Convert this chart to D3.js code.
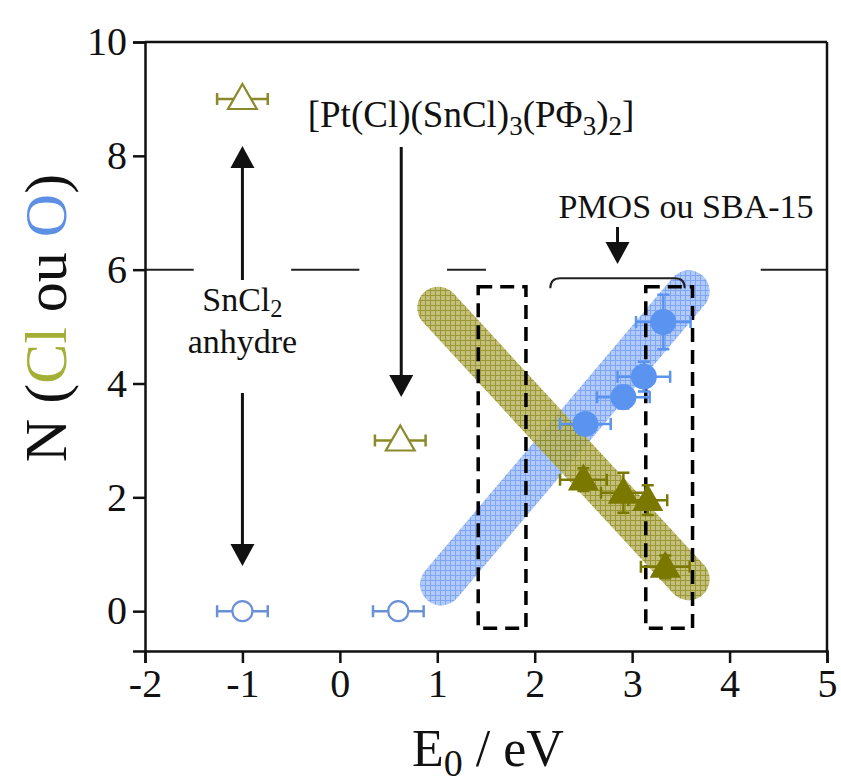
<!DOCTYPE html>
<html><head><meta charset="utf-8">
<script src="https://cdn.jsdelivr.net/npm/d3@7"></script>
<style>body{margin:0;background:#fff} svg text{font-family:"Liberation Serif","Times New Roman",serif}</style>
</head><body><svg id="c" width="841" height="783"></svg>
<script>
// ---- data ----
const xTicks = [-2, -1, 0, 1, 2, 3, 4, 5];
const yTicks = [0, 2, 4, 6, 8, 10];
// reference compounds (open symbols)
const refClE0 = [-1, 0.62], refClN = [9, 3], refClErr = [0.26, 0.26];
const refOE0 = [-1, 0.6], refON = [0, 0], refOErr = [0.26, 0.26];
// PMOS / SBA-15 samples (filled symbols)
const smpClE0 = [2.50, 2.91, 3.16, 3.34], smpClN = [2.31, 2.08, 1.95, 0.78];
const smpClXErr = [0.24, 0.23, 0.20, 0.25], smpClYErr = [0.20, 0.35, 0.26, 0.20];
const smpOE0 = [2.52, 2.91, 3.12, 3.32], smpON = [3.29, 3.76, 4.12, 5.08];
const smpOXErr = [0.26, 0.27, 0.27, 0.28], smpOYErr = [0.10, 0.20, 0.26, 0.48];
// trend bands
const bandCl = [[1.01, 5.33], [3.58, 0.56]];
const bandO = [[1.04, 0.47], [3.58, 5.62]];
// dashed boxes (E0 ranges) and N range
const boxE0 = [[1.42, 1.91], [3.14, 3.62]], boxN = [-0.3, 5.7];
// reference level N = 6 (broken line)
const levelN = 6, levelSegs = [[-2, -1.5], [-0.5, 0.2], [1.1, 1.5], [4.32, 5]];

// ---- chart ----
const SERIF = '"Liberation Serif","Times New Roman",serif';
const svg = d3.select("#c");
const x = d3.scaleLinear([-2, 5], [145, 827]);
const y = d3.scaleLinear([-0.7, 10], [651, 42]);
const OLIVE = "#7b7800", BLUE = "#5b93f0";

const defs = svg.append("defs");
function hatch(id, base, line) {
  const p = defs.append("pattern").attr("id", id).attr("patternUnits", "userSpaceOnUse")
    .attr("width", 5).attr("height", 5);
  p.append("rect").attr("width", 5).attr("height", 5).attr("fill", base);
  p.append("path").attr("d", "M0,0.5H5M0.5,0V5").attr("stroke", line).attr("stroke-width", 1);
}
hatch("hO", "#b2caf8", "#7fa6f2");
hatch("hCl", "#bcb86a", "#8c8a1a");

// bands
function band(pts, pat, op) {
  svg.append("line").attr("x1", x(pts[0][0])).attr("y1", y(pts[0][1]))
    .attr("x2", x(pts[1][0])).attr("y2", y(pts[1][1]))
    .attr("stroke", `url(#${pat})`).attr("stroke-width", 42).attr("stroke-linecap", "round")
    .attr("opacity", op);
}
band(bandO, "hO", 1);
band(bandCl, "hCl", 0.88);

// dashed boxes
boxE0.forEach(b => {
  svg.append("rect").attr("x", x(b[0])).attr("y", y(boxN[1]))
    .attr("width", x(b[1]) - x(b[0])).attr("height", y(boxN[0]) - y(boxN[1]))
    .attr("fill", "none").attr("stroke", "#000").attr("stroke-width", 3.5)
    .attr("stroke-dasharray", "14,8");
});

// level line
levelSegs.forEach(s => {
  svg.append("line").attr("x1", x(s[0])).attr("x2", x(s[1])).attr("y1", y(levelN)).attr("y2", y(levelN))
    .attr("stroke", "#222").attr("stroke-width", 2);
});

// axes
const gx = svg.append("g").attr("transform", `translate(0,${y(-0.7)})`)
  .call(d3.axisBottom(x).tickValues(xTicks).tickSize(12).tickPadding(6).tickFormat(d3.format("d")));
const gy = svg.append("g").attr("transform", `translate(${x(-2)},0)`)
  .call(d3.axisLeft(y).tickValues(yTicks).tickSize(12).tickPadding(6).tickFormat(d3.format("d")));
[gx, gy].forEach(g => {
  g.attr("font-family", SERIF);
  g.select(".domain").attr("stroke-width", 2.5).attr("stroke", "#111");
  g.selectAll(".tick line").attr("stroke-width", 2.5).attr("stroke", "#111");
  g.selectAll(".tick text").attr("font-size", 40).attr("fill", "#111");
});
gx.selectAll(".tick text").text(d => d < 0 ? "-" + Math.abs(d) : d);
// frame top/right
svg.append("line").attr("x1", x(-2)).attr("x2", x(5)).attr("y1", y(10)).attr("y2", y(10)).attr("stroke", "#111").attr("stroke-width", 2.5);
svg.append("line").attr("x1", x(5)).attr("x2", x(5)).attr("y1", y(10)).attr("y2", y(-0.7)).attr("stroke", "#111").attr("stroke-width", 2.5);

// error bars
function errX(g, cx, cy, e, col) {
  const cap = 6;
  g.append("path").attr("d", `M${x(cx - e)},${y(cy)}H${x(cx + e)}M${x(cx - e)},${y(cy) - cap}v${2 * cap}M${x(cx + e)},${y(cy) - cap}v${2 * cap}`)
    .attr("stroke", col).attr("stroke-width", 2.5).attr("fill", "none");
}
function errY(g, cx, cy, e, col) {
  const cap = 6;
  g.append("path").attr("d", `M${x(cx)},${y(cy - e)}V${y(cy + e)}M${x(cx) - cap},${y(cy - e)}h${2 * cap}M${x(cx) - cap},${y(cy + e)}h${2 * cap}`)
    .attr("stroke", col).attr("stroke-width", 2.5).attr("fill", "none");
}
const tri = (cx, cy, s) => `M${cx},${cy - s * 0.62}L${cx + s * 0.6},${cy + s * 0.42}L${cx - s * 0.6},${cy + s * 0.42}Z`;
const mg = svg.append("g");
// open references
refClE0.forEach((e, i) => {
  errX(mg, e, refClN[i], refClErr[i], "#8a8a2a");
  mg.append("path").attr("d", tri(x(e), y(refClN[i]), 24)).attr("fill", "#fff").attr("stroke", "#8a8a2a").attr("stroke-width", 2.2);
});
refOE0.forEach((e, i) => {
  errX(mg, e, refON[i], refOErr[i], "#6a90d8");
  mg.append("circle").attr("cx", x(e)).attr("cy", y(refON[i])).attr("r", 10).attr("fill", "#fff").attr("stroke", "#6a90d8").attr("stroke-width", 2.2);
});
// filled samples
smpOE0.forEach((e, i) => {
  errX(mg, e, smpON[i], smpOXErr[i], BLUE);
  errY(mg, e, smpON[i], smpOYErr[i], BLUE);
  mg.append("circle").attr("cx", x(e)).attr("cy", y(smpON[i])).attr("r", 13).attr("fill", BLUE);
});
smpClE0.forEach((e, i) => {
  errX(mg, e, smpClN[i], smpClXErr[i], OLIVE);
  errY(mg, e, smpClN[i], smpClYErr[i], OLIVE);
  mg.append("path").attr("d", tri(x(e), y(smpClN[i]), 26)).attr("fill", OLIVE);
});

// arrows
function arrow(px, y0, y1) {
  const dir = y1 > y0 ? 1 : -1, hl = 22, hw = 12;
  svg.append("line").attr("x1", px).attr("x2", px).attr("y1", y0).attr("y2", y1 - dir * hl)
    .attr("stroke", "#111").attr("stroke-width", 3);
  svg.append("path").attr("d", `M${px},${y1}L${px - hw},${y1 - dir * hl}L${px + hw},${y1 - dir * hl}Z`).attr("fill", "#111");
}
arrow(x(-1), 280, 146);
arrow(x(-1), 393, 566);
arrow(x(0.63), 147, 397);
arrow(x(2.85), 227, 264);

// bracket
const bx0 = x(2.16), bx1 = x(3.54), by = y(5.85);
svg.append("path").attr("d", `M${bx0},${by + 10}Q${bx0},${by} ${bx0 + 10},${by}H${bx1 - 10}Q${bx1},${by} ${bx1},${by + 10}`)
  .attr("fill", "none").attr("stroke", "#222").attr("stroke-width", 2);

// texts
const FS = 34;
const T = (xx, yy, fs) => svg.append("text").attr("x", xx).attr("y", yy).attr("text-anchor", "middle")
  .attr("font-size", fs).attr("font-family", SERIF).attr("fill", "#111");
const t1 = T(x(-1), 311, FS);
t1.append("tspan").text("SnCl");
t1.append("tspan").attr("dy", 6).attr("font-size", FS * 0.72).text("2");
T(x(-1), 353, FS).text("anhydre");

const t2 = T(471, 127, 37);
t2.append("tspan").text("[Pt(Cl)(SnCl)");
t2.append("tspan").attr("dy", 8).attr("font-size", 27).text("3");
t2.append("tspan").attr("dy", -8).text("(PΦ");
t2.append("tspan").attr("dy", 8).attr("font-size", 27).text("3");
t2.append("tspan").attr("dy", -8).text(")");
t2.append("tspan").attr("dy", 8).attr("font-size", 27).text("2");
t2.append("tspan").attr("dy", -8).text("]");

T(686, 218, FS).text("PMOS ou SBA-15");

// axis titles
const xt = T(488, 766, 52);
xt.append("tspan").text("E");
xt.append("tspan").attr("dy", 10).attr("font-size", 38).text("0");
xt.append("tspan").attr("dy", -10).text(" / eV");

const yt = svg.append("text").attr("transform", "translate(66,318) rotate(-90)").attr("text-anchor", "middle")
  .attr("font-size", 60).attr("font-family", SERIF).attr("fill", "#111");
yt.append("tspan").text("N (");
yt.append("tspan").attr("fill", "#a3b035").text("Cl");
yt.append("tspan").text(" ou ");
yt.append("tspan").attr("fill", "#5d8fe3").text("O");
yt.append("tspan").text(")");
</script></body></html>
